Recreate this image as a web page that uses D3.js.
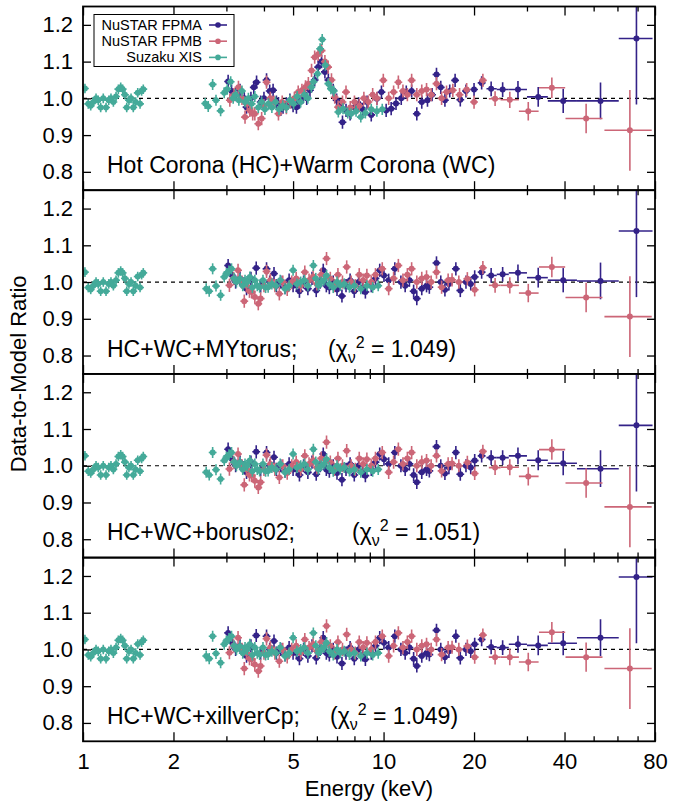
<!DOCTYPE html>
<html>
<head>
<meta charset="utf-8">
<script src="https://cdn.jsdelivr.net/npm/d3@7"></script>
<style>
  body { margin: 0; background: #fff; }
  text { font-family: "Liberation Sans", Arial, Helvetica, sans-serif; fill: #000; }
</style>
</head>
<body>
<svg width="681" height="803"></svg>
<script>
// ---- data ----
const panelNames = ['Hot Corona (HC)+Warm Corona (WC)', 'HC+WC+MYtorus;', 'HC+WC+borus02;', 'HC+WC+xillverCp;'];
const chiValues = [null, '1.049', '1.051', '1.049'];
const seriesNames = ['NuSTAR FPMA', 'NuSTAR FPMB', 'Suzaku XIS'];
const xMajorTicks = [1, 2, 5, 10, 20, 40, 80];
const xMinorTicks = [3, 4, 6, 7, 8, 9, 30, 50, 60, 70];
const yTicks = [0.8, 0.9, 1.0, 1.1, 1.2];

// Suzaku XIS below the Si edge (same in every panel)
const xisLowE = [1.015,1.041,1.061,1.082,1.105,1.124,1.145,1.168,1.193,1.218,1.239,1.262,1.288,1.311,1.335,1.355,1.379,1.398,1.422,1.445,1.470,1.497,1.521,1.548,1.567,1.587];
const xisLowR = [1.027,0.985,0.98,0.99,1.0,0.995,0.975,1.0,0.975,0.995,1.0,0.99,1.005,1.025,1.03,1.025,1.01,0.975,0.995,1.0,0.975,0.99,1.015,0.985,1.02,1.025];

// panel 1: HC + WC
const xisE_hc = [2.55,2.61,2.70,2.77,2.87,2.95,3.02,3.10,3.16,3.22,3.30,3.38,3.46,3.55,3.64,3.73,3.83,3.93,4.03,4.14,4.25,4.37,4.49,4.62,4.75,4.88,5.02,5.16,5.30,5.45,5.60,5.75,5.85,6.03,6.15,6.25,6.40,6.55,6.68,6.83,7.07,7.33,7.60,7.80,8.10,8.40,8.70,9.10,9.50,9.90];
const xisR_hc = [0.986,0.978,1.038,0.995,0.966,1.015,1.025,1.045,1.0,1.01,0.995,1.02,0.99,1.0,0.985,1.005,0.975,0.99,0.97,0.985,0.975,0.99,0.97,0.98,0.975,0.995,0.985,1.005,0.99,1.01,1.0,1.03,1.045,1.067,1.135,1.16,1.09,1.04,1.026,1.02,0.963,0.972,0.96,0.958,0.965,0.949,0.96,0.97,0.965,0.97];
const fpmaE_hc = [3.04,3.12,3.22,3.33,3.44,3.50,3.62,3.70,3.78,3.90,4.00,4.08,4.18,4.29,4.40,4.47,4.55,4.63,4.75,4.88,5.00,5.13,5.25,5.40,5.55,5.69,5.90,6.06,6.22,6.38,6.55,6.80,6.98,7.15,7.30,7.50,7.74,8.00,8.26,8.53,8.81,9.10,9.50,9.84,10.20,10.60,11.00,11.45,11.90,12.40,12.90,13.40,14.00,14.50,15.00,15.50,16.00,16.60,17.30,18.00,18.80,20.00,21.20];
const fpmaR_hc = [1.046,1.02,1.01,1.022,1.0,0.976,1.0,1.03,1.044,0.99,1.0,1.05,1.02,1.022,0.99,0.986,0.97,0.976,0.985,0.995,0.98,0.976,0.99,1.004,1.0,1.022,1.05,1.085,1.1,1.072,1.05,1.022,0.995,0.98,0.935,0.967,0.958,0.975,0.985,0.97,0.99,0.955,0.999,1.017,0.967,0.972,0.986,1.0,1.017,1.02,0.958,0.99,0.995,1.01,1.065,1.03,0.995,1.02,1.049,0.996,1.02,1.024,1.042];
const fpmbE_hc = [3.08,3.18,3.29,3.38,3.46,3.52,3.59,3.67,3.73,3.83,3.93,4.00,4.08,4.20,4.32,4.47,4.60,4.75,4.90,5.05,5.20,5.35,5.50,5.62,5.76,5.90,6.06,6.22,6.38,6.54,6.71,6.88,7.06,7.30,7.50,7.75,8.00,8.30,8.60,8.90,9.20,9.50,9.98,10.40,10.80,11.20,11.60,12.00,12.40,12.90,13.40,13.90,14.40,15.00,15.60,16.20,17.00,17.90,18.90,20.00,21.40];
const fpmbR_hc = [0.995,1.01,1.03,1.0,0.949,0.985,0.967,0.958,0.958,0.931,0.945,0.98,1.044,1.0,0.99,0.958,0.99,0.975,0.99,1.0,1.017,1.022,1.031,1.04,1.076,1.112,1.12,1.13,1.1,1.085,1.05,1.003,0.976,0.99,1.017,0.975,0.99,0.98,1.0,0.99,1.01,1.0,1.049,1.0,1.017,1.044,1.02,1.01,1.049,1.01,1.02,1.024,1.01,1.04,1.0,1.017,1.022,1.01,1.024,0.99,1.049];

// panels 2-4: reflection models (low/mid energies look the same)
const xisE_rf = [2.57,2.63,2.70,2.77,2.87,2.95,3.00,3.06,3.12,3.18,3.24,3.33,3.40,3.46,3.52,3.59,3.66,3.73,3.80,3.87,3.97,4.05,4.13,4.25,4.38,4.53,4.70,4.85,5.00,5.15,5.30,5.45,5.60,5.84,5.95,6.07,6.20,6.33,6.46,6.60,6.80,7.00,7.18,7.40,7.70,8.00,8.40,8.80,9.20,9.60];
const xisR_rf = [0.982,0.975,1.036,0.989,0.964,1.014,1.023,1.03,1.036,1.01,1.0,1.009,0.99,1.005,1.0,1.014,0.985,1.005,0.99,0.986,1.005,0.985,0.986,0.995,0.99,1.005,0.982,0.99,1.032,0.995,1.0,1.005,0.99,1.045,1.01,0.991,1.0,1.005,1.018,0.995,0.985,1.0,0.991,0.995,0.986,0.99,0.982,0.99,0.985,0.99];
const fpmaE_rf = [3.04,3.12,3.22,3.33,3.44,3.50,3.62,3.77,3.90,4.08,4.18,4.32,4.40,4.55,4.70,4.85,5.00,5.13,5.25,5.42,5.60,5.78,5.97,6.15,6.30,6.45,6.60,6.80,7.00,7.27,7.50,7.74,7.99,8.26,8.53,8.70,9.10,9.40,9.71,10.03,10.40,10.90,11.42,11.80,12.19,12.59,12.90,13.40,13.90,14.20,15.00,15.50,16.00,16.50,17.40,18.00,18.80,19.50,20.10,21.20];
const fpmaR_rf = [1.045,1.02,1.0,1.01,0.995,0.982,1.01,1.038,0.99,1.036,1.0,1.023,0.99,1.0,0.985,1.005,0.99,0.991,0.975,1.0,0.982,1.01,0.977,1.0,1.032,0.99,0.985,1.0,0.98,0.962,0.99,1.005,0.975,1.0,0.985,0.973,0.99,1.01,1.032,1.018,1.005,1.036,1.0,0.99,1.005,0.975,0.955,0.982,0.99,0.986,1.052,1.0,0.979,0.995,1.036,0.977,1.0,0.995,1.014,1.027];
const fpmbE_rf = [3.07,3.17,3.28,3.38,3.44,3.50,3.58,3.64,3.73,3.83,3.90,4.00,4.08,4.20,4.35,4.50,4.62,4.78,4.95,5.12,5.30,5.47,5.65,5.83,6.00,6.20,6.46,6.65,6.85,7.05,7.30,7.54,7.80,8.05,8.30,8.55,8.80,9.10,9.40,9.90,10.40,10.80,11.20,11.60,12.00,12.40,12.90,13.40,13.90,14.40,15.00,15.60,16.40,16.90,17.80,19.00,20.10,21.40];
const fpmbR_rf = [0.991,1.01,1.032,1.0,0.948,0.99,0.975,0.973,0.959,0.941,0.955,0.99,1.029,1.005,0.99,0.968,1.0,0.98,1.0,1.01,0.99,1.027,1.005,1.015,0.995,1.02,1.064,1.01,0.99,1.02,1.0,1.041,1.0,0.99,1.02,1.005,1.018,1.0,1.02,1.036,0.982,1.01,1.045,1.005,1.02,1.036,1.0,1.01,1.014,1.0,1.027,0.986,1.005,1.006,1.0,1.009,0.979,1.039];

// wide high-energy bins
const fpmaBinLo = [22.0, 23.8, 26.1, 30.0, 35.2, 44.0, 60.6];
const fpmaBinHi = [23.8, 26.1, 30.0, 35.2, 44.0, 60.6, 78.5];
const fpmaBinE  = [22.8, 24.9, 28.0, 32.7, 39.6, 52.7, 69.4];
const fpmaBinErr = [0.02, 0.02, 0.023, 0.027, 0.033, 0.05, 0.18];
const fpmaBinR_hc = [1.026, 1.024, 1.024, 1.004, 0.993, 0.993, 1.163];
const fpmaBinR_my = [1.018, 1.021, 1.025, 1.012, 1.005, 1.003, 1.139];
const fpmaBinR_bo = [1.022, 1.022, 1.027, 1.015, 1.007, 0.992, 1.110];
const fpmaBinR_xi = [1.007, 1.005, 1.014, 1.011, 1.017, 1.032, 1.197];

const fpmbBinLo = [22.4, 24.5, 28.2, 32.9, 40.3, 54.3];
const fpmbBinHi = [24.5, 28.2, 32.8, 40.2, 53.5, 78.0];
const fpmbBinE  = [23.5, 26.3, 30.3, 36.3, 47.2, 66.0];
const fpmbBinErr = [0.02, 0.022, 0.025, 0.028, 0.04, 0.11];
const fpmbBinR_hc = [0.999, 0.996, 0.965, 1.029, 0.945, 0.913];
const fpmbBinR_my = [0.991, 0.991, 0.970, 1.041, 0.958, 0.906];
const fpmbBinR_bo = [0.995, 0.996, 0.971, 1.044, 0.953, 0.888];
const fpmbBinR_xi = [0.979, 0.979, 0.966, 1.047, 0.979, 0.948];

// 1-sigma errors and half bin width (dex) of the dense points
const nuErr = 0.018, xisErr = 0.015, xisLowErr = 0.013;
const binHalfDex = 0.013;

// ---- layout ----
const svg = d3.select('svg');
const width = 681;
const margin = { left: 83, right: 26, top: 6.5 };
const panelH = 183.7;
const colors = ['#332288', '#CC6677', '#44AA99'];
const chiX = [0, 328, 352, 330];

const x = d3.scaleLog().domain([1, 80]).range([margin.left, width - margin.right]);
const y = d3.scaleLinear().domain([0.75, 1.25]).range([panelH, 0]);

const dense = (es, rs, err) => es.map((e, i) => ({
  e, r: rs[i], err,
  lo: e * Math.pow(10, -binHalfDex), hi: e * Math.pow(10, binHalfDex)
}));
const binned = (es, los, his, rs, errs) => es.map((e, i) => ({
  e, r: rs[i], err: errs[i], lo: los[i], hi: his[i]
}));

const panels = [
  { fpma: [fpmaE_hc, fpmaR_hc, fpmaBinR_hc], fpmb: [fpmbE_hc, fpmbR_hc, fpmbBinR_hc], xis: [xisE_hc, xisR_hc] },
  { fpma: [fpmaE_rf, fpmaR_rf, fpmaBinR_my], fpmb: [fpmbE_rf, fpmbR_rf, fpmbBinR_my], xis: [xisE_rf, xisR_rf] },
  { fpma: [fpmaE_rf, fpmaR_rf, fpmaBinR_bo], fpmb: [fpmbE_rf, fpmbR_rf, fpmbBinR_bo], xis: [xisE_rf, xisR_rf] },
  { fpma: [fpmaE_rf, fpmaR_rf, fpmaBinR_xi], fpmb: [fpmbE_rf, fpmbR_rf, fpmbBinR_xi], xis: [xisE_rf, xisR_rf] }
].map(p => [
  dense(p.fpma[0], p.fpma[1], nuErr).concat(binned(fpmaBinE, fpmaBinLo, fpmaBinHi, p.fpma[2], fpmaBinErr)),
  dense(p.fpmb[0], p.fpmb[1], nuErr).concat(binned(fpmbBinE, fpmbBinLo, fpmbBinHi, p.fpmb[2], fpmbBinErr)),
  dense(xisLowE, xisLowR, xisLowErr).concat(dense(p.xis[0], p.xis[1], xisErr))
]);

const drawSeries = (g, pts, color) => {
  const s = g.append('g');
  s.selectAll('.vbar').data(pts).enter().append('line')
    .attr('x1', d => x(d.e)).attr('x2', d => x(d.e))
    .attr('y1', d => y(d.r - d.err)).attr('y2', d => y(d.r + d.err))
    .attr('stroke', color).attr('stroke-width', 1.6);
  s.selectAll('.hbar').data(pts).enter().append('line')
    .attr('x1', d => x(d.lo)).attr('x2', d => x(d.hi))
    .attr('y1', d => y(d.r)).attr('y2', d => y(d.r))
    .attr('stroke', color).attr('stroke-width', 1.6);
  s.selectAll('circle').data(pts).enter().append('circle')
    .attr('cx', d => x(d.e)).attr('cy', d => y(d.r))
    .attr('r', 3).attr('fill', color);
};

panels.forEach((series, i) => {
  const top = margin.top + i * panelH;
  const g = svg.append('g').attr('transform', `translate(0, ${top})`);

  g.append('clipPath').attr('id', `clip${i}`)
    .append('rect').attr('x', x.range()[0]).attr('y', 0)
    .attr('width', x.range()[1] - x.range()[0]).attr('height', panelH);

  const plot = g.append('g').attr('clip-path', `url(#clip${i})`);
  plot.append('line')
    .attr('x1', x(1)).attr('x2', x(80)).attr('y1', y(1)).attr('y2', y(1))
    .attr('stroke', '#000').attr('stroke-width', 1.2).attr('stroke-dasharray', '4,4');
  series.forEach((pts, k) => drawSeries(plot, pts, colors[k]));

  // axes (ticks inward on all four sides)
  const isLast = i === panels.length - 1;
  const bottom = g.append('g').attr('transform', `translate(0, ${panelH})`)
    .call(d3.axisBottom(x).tickValues(xMajorTicks).tickSize(-9).tickPadding(12)
      .tickFormat(isLast ? d3.format('d') : ''));
  g.append('g').attr('transform', `translate(0, ${panelH})`)
    .call(d3.axisBottom(x).tickValues(xMinorTicks).tickSize(-5).tickFormat(''));
  g.append('g').call(d3.axisTop(x).tickValues(xMajorTicks).tickSize(-9).tickFormat(''));
  g.append('g').call(d3.axisTop(x).tickValues(xMinorTicks).tickSize(-5).tickFormat(''));
  const left = g.append('g').attr('transform', `translate(${x.range()[0]}, 0)`)
    .call(d3.axisLeft(y).tickValues(yTicks).tickSize(-8).tickPadding(10).tickFormat(d3.format('.1f')));
  g.append('g').attr('transform', `translate(${x.range()[1]}, 0)`)
    .call(d3.axisRight(y).tickValues(yTicks).tickSize(-8).tickFormat(''));

  g.selectAll('.domain').remove();
  g.selectAll('.tick line').attr('stroke', '#000').attr('stroke-width', 1.3);
  left.selectAll('text').attr('font-size', 22).attr('font-family', null);
  bottom.selectAll('text').attr('font-size', 22).attr('font-family', null);

  g.append('rect')
    .attr('x', x.range()[0]).attr('y', 0)
    .attr('width', x.range()[1] - x.range()[0]).attr('height', panelH)
    .attr('fill', 'none').attr('stroke', '#000').attr('stroke-width', 1.8);

  // annotations
  g.append('text').attr('x', 107).attr('y', 166.5).attr('font-size', 23).text(panelNames[i]);
  if (chiValues[i]) {
    const t = g.append('text').attr('x', chiX[i]).attr('y', 166.5).attr('font-size', 23);
    t.append('tspan').text('(χ');
    t.append('tspan').attr('dy', 6).attr('font-size', 16).text('ν');
    t.append('tspan').attr('dy', -15).attr('font-size', 16).text('2');
    t.append('tspan').attr('dy', 9).text(` = ${chiValues[i]})`);
  }

  // legend in the first panel
  if (i === 0) {
    const lg = g.append('g');
    lg.append('rect').attr('x', 94).attr('y', 8).attr('width', 140).attr('height', 52)
      .attr('fill', '#fff').attr('stroke', '#000').attr('stroke-width', 1);
    seriesNames.forEach((name, k) => {
      const ly = 18.5 + k * 16.2;
      lg.append('text').attr('x', 202).attr('y', ly + 5).attr('text-anchor', 'end')
        .attr('font-size', 14.5).text(name);
      lg.append('line').attr('x1', 209).attr('x2', 227).attr('y1', ly).attr('y2', ly)
        .attr('stroke', colors[k]).attr('stroke-width', 1.6);
      lg.append('circle').attr('cx', 218).attr('cy', ly).attr('r', 2.8).attr('fill', colors[k]);
    });
  }
});

// axis titles
svg.append('text')
  .attr('transform', `translate(26, ${margin.top + 2 * panelH}) rotate(-90)`)
  .attr('text-anchor', 'middle').attr('font-size', 22).text('Data-to-Model Ratio');
svg.append('text')
  .attr('x', (x.range()[0] + x.range()[1]) / 2).attr('y', 796)
  .attr('text-anchor', 'middle').attr('font-size', 22).text('Energy (keV)');
</script>
</body>
</html>
